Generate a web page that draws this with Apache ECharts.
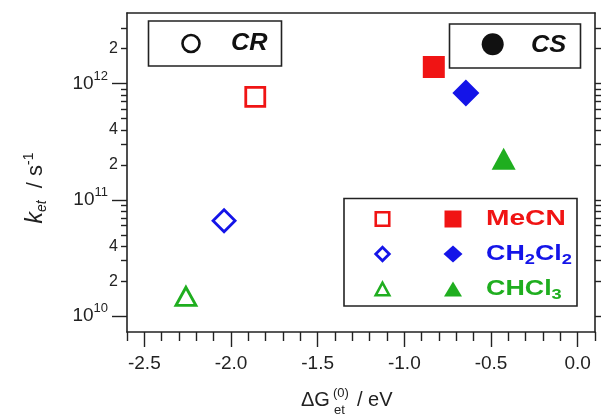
<!DOCTYPE html>
<html>
<head>
<meta charset="utf-8">
<script src="https://cdn.jsdelivr.net/npm/echarts@6/dist/echarts.min.js"></script>
<style>
  html, body { margin: 0; padding: 0; background: #fff; }
  #chart { width: 601px; height: 417px; }
</style>
</head>
<body>
<div id="chart"></div>
<script>
// Electron-transfer rate constants vs. driving force, three solvents.
const solvents = ['MeCN', 'CH2Cl2', 'CHCl3'];
const solventColors = ['#f01414', '#1414e8', '#1fae1f'];
const solventSymbols = ['rect', 'diamond', 'triangle'];

// Charge recombination (CR, open symbols)
const dgCR = [-1.86, -2.04, -2.26];
const kCR = [7.7e11, 6.6e10, 1.48e10];

// Charge separation (CS, filled symbols)
const dgCS = [-0.83, -0.645, -0.427];
const kCS = [1.39e12, 8.3e11, 2.26e11];

// Axis ranges and ticks
const xMin = -2.6, xMax = 0.1;
const xMajorTicks = [-2.5, -2.0, -1.5, -1.0, -0.5, 0.0];
const xMinorTicks = [-2.6, -2.4, -2.3, -2.2, -2.1, -1.9, -1.8, -1.7, -1.6, -1.4, -1.3, -1.2, -1.1,
                     -0.9, -0.8, -0.7, -0.6, -0.4, -0.3, -0.2, -0.1, 0.1];
const yMin = 7.3e9, yMax = 4.05e12;
const yMajorTicks = [1e10, 1e11, 1e12];
const yMinorTicks = [2e10, 3e10, 4e10, 5e10, 6e10, 7e10, 8e10, 9e10,
                     2e11, 3e11, 4e11, 5e11, 6e11, 7e11, 8e11, 9e11,
                     2e12, 3e12];
const yMinorLabeled = [2e10, 4e10, 2e11, 4e11, 2e12];

const L = Math.log10;
const INK = '#222';
const FONT = 'Liberation Sans, Arial, sans-serif';

const openSizes = [19, 22, [20, 18]];
const filledSizes = [22, 27, [24, 22]];

const series = [];
solvents.forEach((name, i) => {
  series.push({
    type: 'scatter', name: name + ' CR', xAxisIndex: 0, yAxisIndex: 0,
    symbol: solventSymbols[i], symbolSize: openSizes[i],
    data: [[dgCR[i], kCR[i]]],
    itemStyle: { color: '#fff', borderColor: solventColors[i], borderWidth: 2.8, opacity: 1 },
    z: 3
  });
  series.push({
    type: 'scatter', name: name + ' CS', xAxisIndex: 0, yAxisIndex: 0,
    symbol: solventSymbols[i], symbolSize: filledSizes[i],
    data: [[dgCS[i], kCS[i]]],
    itemStyle: { color: solventColors[i], opacity: 1 },
    z: 3
  });
});

const lineStyle = { color: INK, width: 1.6 };
const tickStyle = { color: INK, width: 1.4 };
const noSplit = { show: false };
const hiddenLine = { show: false, onZero: false };

function xAxisBase(extra) {
  return Object.assign({
    type: 'value', min: xMin, max: xMax, splitLine: noSplit,
    axisLine: hiddenLine, axisTick: { show: false }, axisLabel: { show: false }
  }, extra);
}
function yAxisBase(extra) {
  return Object.assign({
    type: 'value', min: L(yMin), max: L(yMax), splitLine: noSplit,
    axisLine: hiddenLine, axisTick: { show: false }, axisLabel: { show: false }
  }, extra);
}

const xAxis = [
  xAxisBase({
    position: 'bottom',
    axisLine: { show: true, onZero: false, lineStyle },
    axisTick: { show: true, customValues: xMajorTicks, length: 15, lineStyle: tickStyle },
    axisLabel: {
      show: true, customValues: xMajorTicks, formatter: v => v.toFixed(1),
      margin: 22, fontSize: 19, color: INK, fontFamily: FONT
    }
  }),
  xAxisBase({
    position: 'bottom',
    axisTick: { show: true, customValues: xMinorTicks, length: 9, lineStyle: tickStyle }
  }),
  xAxisBase({ position: 'top', axisLine: { show: true, onZero: false, lineStyle } })
];

const yAxis = [
  {
    type: 'log', logBase: 10, min: yMin, max: yMax, position: 'left',
    axisLine: { show: true, onZero: false, lineStyle },
    axisTick: { show: false }, axisLabel: { show: false }, splitLine: noSplit, minorTick: { show: false }
  },
  yAxisBase({
    position: 'left',
    axisTick: { show: true, customValues: yMajorTicks.map(L), length: 15, lineStyle: tickStyle },
    axisLabel: {
      show: true, customValues: yMajorTicks.map(L), margin: 19,
      formatter: v => '{b|10}{s|' + Math.round(v) + '}',
      rich: {
        b: { fontSize: 19, color: INK, fontFamily: FONT },
        s: { fontSize: 13, color: INK, fontFamily: FONT, padding: [0, 0, 15, 0] }
      }
    }
  }),
  yAxisBase({
    position: 'left',
    axisTick: { show: true, customValues: yMinorTicks.map(L), length: 6, lineStyle: tickStyle },
    axisLabel: {
      show: true, customValues: yMinorLabeled.map(L), margin: 9,
      formatter: v => String(Math.round(Math.pow(10, v - Math.floor(v + 1e-9)))),
      fontSize: 16, color: INK, fontFamily: FONT
    }
  }),
  yAxisBase({
    position: 'right',
    axisLine: { show: true, onZero: false, lineStyle },
    axisTick: { show: true, customValues: yMajorTicks.map(L), length: 10, lineStyle: tickStyle }
  }),
  yAxisBase({
    position: 'right',
    axisTick: { show: true, customValues: yMinorTicks.map(L), length: 6, lineStyle: tickStyle }
  })
];

// Legend icon helpers
function squareIcon(cx, cy, s, color, filled) {
  return { type: 'rect', z: 20, shape: { x: cx - s / 2, y: cy - s / 2, width: s, height: s },
    style: filled ? { fill: color } : { fill: '#fff', stroke: color, lineWidth: 2.6 } };
}
function diamondIcon(cx, cy, w, h, color, filled) {
  return { type: 'polygon', z: 20,
    shape: { points: [[cx, cy - h / 2], [cx + w / 2, cy], [cx, cy + h / 2], [cx - w / 2, cy]] },
    style: filled ? { fill: color } : { fill: '#fff', stroke: color, lineWidth: 2.8 } };
}
function triangleIcon(cx, cy, w, h, color, filled) {
  return { type: 'polygon', z: 20,
    shape: { points: [[cx, cy - h / 2], [cx + w / 2, cy + h / 2], [cx - w / 2, cy + h / 2]] },
    style: filled ? { fill: color } : { fill: '#fff', stroke: color, lineWidth: 2.6 } };
}
function boxFrame(x, y, w, h) {
  return { type: 'rect', z: 15, shape: { x, y, width: w, height: h },
    style: { fill: '#fff', stroke: INK, lineWidth: 1.6 } };
}
function label(x, y, text, extra, scaleX) {
  return { type: 'text', z: 21, x, y, scaleX: scaleX || 1,
    style: Object.assign({ text, textAlign: 'left', textVerticalAlign: 'middle', fontFamily: FONT }, extra) };
}

const rowY = [219, 254, 289];
const subRich = (color) => ({
  n: { fontSize: 22, fontWeight: 'bold', fill: color, color, fontFamily: FONT },
  d: { fontSize: 15, fontWeight: 'bold', fill: color, color, fontFamily: FONT, padding: [12, 0, 0, 0] }
});

const graphic = [
  // CR / CS keys
  boxFrame(148.5, 21, 133, 45),
  { type: 'circle', z: 20, shape: { cx: 191, cy: 43.5, r: 8.5 }, style: { fill: '#fff', stroke: '#111', lineWidth: 2.6 } },
  label(231, 44, 'CR', { fontSize: 23, fontWeight: 'bold', fontStyle: 'italic', fill: '#111' }, 1.1),
  boxFrame(449.5, 24, 131, 44),
  { type: 'circle', z: 20, shape: { cx: 492.7, cy: 44.3, r: 11 }, style: { fill: '#111' } },
  label(531, 45, 'CS', { fontSize: 24, fontWeight: 'bold', fontStyle: 'italic', fill: '#111' }, 1.06),

  // solvent key
  boxFrame(344, 198.5, 233, 107.5),
  squareIcon(382.5, rowY[0], 13.5, solventColors[0], false),
  squareIcon(453, rowY[0], 17, solventColors[0], true),
  diamondIcon(382.5, rowY[1], 13.5, 13.5, solventColors[1], false),
  diamondIcon(453, rowY[1], 19, 17, solventColors[1], true),
  triangleIcon(382.5, rowY[2], 13.5, 12.5, solventColors[2], false),
  triangleIcon(453, rowY[2], 18, 15, solventColors[2], true),
  label(486, rowY[0], '{n|MeCN}', { rich: subRich(solventColors[0]) }, 1.28),
  label(486, rowY[1], '{n|CH}{d|2}{n|Cl}{d|2}', { rich: subRich(solventColors[1]) }, 1.22),
  label(486, rowY[2], '{n|CHCl}{d|3}', { rich: subRich(solventColors[2]) }, 1.22),

  // axis titles
  label(301, 400, 'ΔG', { fontSize: 20, fill: INK }),
  label(333, 393, '(0)', { fontSize: 13, fill: INK }),
  label(334, 410, 'et', { fontSize: 13, fill: INK }),
  label(357, 400, '/ eV', { fontSize: 20, fill: INK }),
  {
    type: 'text', z: 21, x: 36, y: 188, rotation: Math.PI / 2,
    style: {
      text: '{k|k}{e|et}{n|  / s}{p|-1}', textAlign: 'center', textVerticalAlign: 'middle',
      rich: {
        k: { fontSize: 23, fontStyle: 'italic', fill: INK, color: INK, fontFamily: FONT },
        e: { fontSize: 14, fontStyle: 'italic', fill: INK, color: INK, fontFamily: FONT, padding: [12, 0, 0, 0] },
        n: { fontSize: 22, fill: INK, color: INK, fontFamily: FONT },
        p: { fontSize: 14, fill: INK, color: INK, fontFamily: FONT, padding: [0, 0, 14, 0] }
      }
    }
  }
];

const chart = echarts.init(document.getElementById('chart'), null, { renderer: 'canvas' });
chart.setOption({
  animation: false,
  backgroundColor: '#fff',
  grid: { left: 127, right: 6, top: 13, bottom: 85, containLabel: false },
  xAxis,
  yAxis,
  series,
  graphic
});
</script>
</body>
</html>
